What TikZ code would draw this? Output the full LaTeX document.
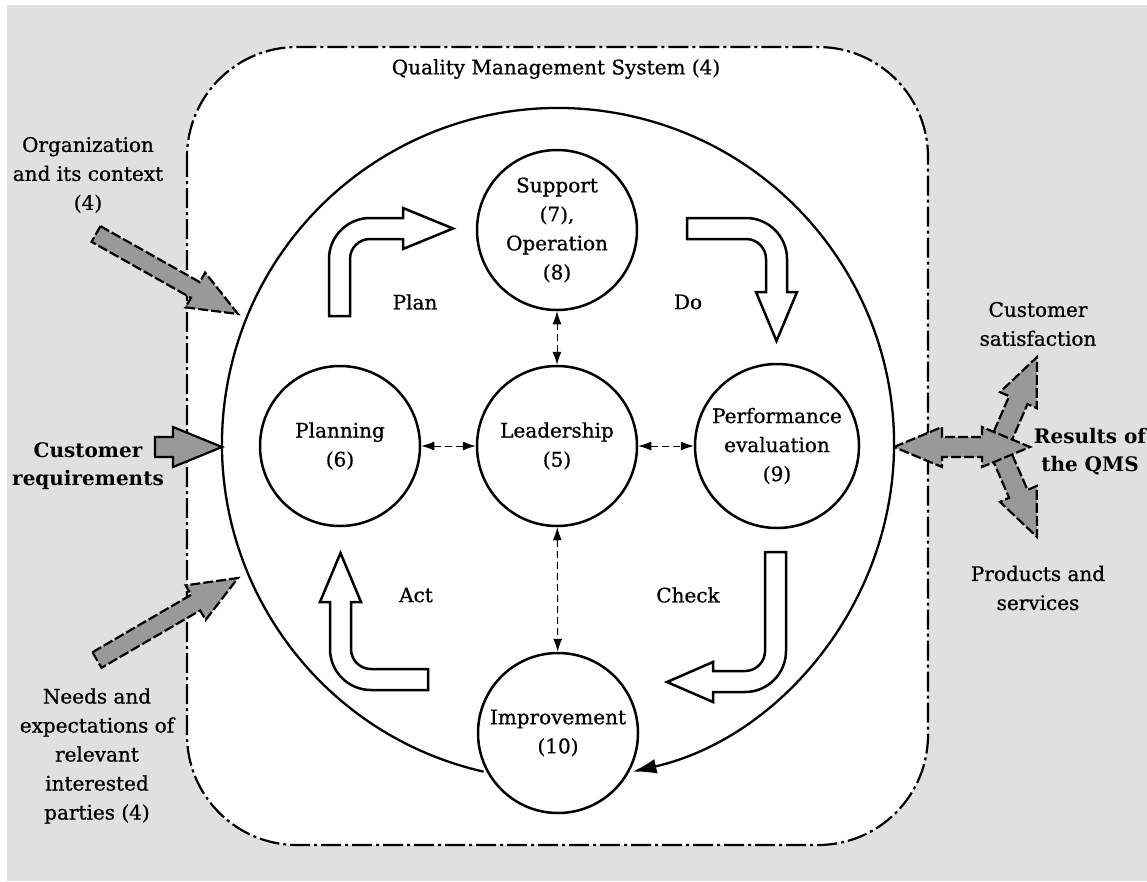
\documentclass[tikz,border=0pt]{standalone}
\usepackage{fontspec}
\setmainfont{DejaVu Serif}[UprightFeatures={FakeBold=0.8}]
\usetikzlibrary{calc,arrows.meta}
\definecolor{bggray}{RGB}{224,224,224}
\definecolor{arrgray}{RGB}{153,153,153}
\newcommand\fatarrow[6][]{%
  \path (#2) coordinate (fa-t) (#3) coordinate (fa-p);
  \path ($(fa-p)!#6!(fa-t)$) coordinate (fa-h);
  \draw[#1] ($(fa-t)!#4!90:(fa-p)$) -- ($(fa-h)!#4!90:(fa-p)$) -- ($(fa-h)!#5!90:(fa-p)$) -- (fa-p)
    -- ($(fa-h)!#5!-90:(fa-p)$) -- ($(fa-h)!#4!-90:(fa-p)$) -- ($(fa-t)!#4!-90:(fa-p)$) -- cycle;
}
\begin{document}
\begin{tikzpicture}[x=1pt,y=-1pt,
  txt/.style={font=\fontsize{20pt}{29pt}\selectfont, align=center, inner sep=0pt},
  btxt/.style={txt, font=\fontsize{20pt}{28pt}\selectfont\bfseries},
  circ/.style={circle, draw, line width=2.5pt, fill=white, minimum size=160pt, inner sep=0pt, align=center, font=\fontsize{20pt}{29pt}\selectfont},
  dashdot/.style={line width=2.2pt, dash pattern=on 20pt off 4pt on 3pt off 4pt},
  hollow/.style={draw, fill=white, line width=2.5pt, line join=miter},
  grayarr/.style={draw, fill=arrgray, line width=2.2pt, dash pattern=on 10pt off 3pt, line join=miter},
  solidarr/.style={draw, fill=arrgray, line width=2.2pt, line join=miter},
  link/.style={line width=1pt, dash pattern=on 7pt off 4pt, {Latex[length=13pt,width=9pt]}-{Latex[length=13pt,width=9pt]}}
]
\useasboundingbox (0,0) rectangle (1147,881);
\fill[white] (0,0) rectangle (1147,881);
\fill[bggray] (7,5) rectangle (1147,881);
% QMS boundary
\draw[dashdot, fill=white, rounded corners=110pt] (187,47) rectangle (928,845);
\node[txt] (qms) at (556,69) {Quality Management System (4)};
% big cycle
\coordinate (cc) at (558,444);
\draw[line width=2.3pt, -{Latex[length=24pt,width=15pt]}] ($(cc)+(102.8:336)$) arc[start angle=102.8, end angle=437.2, radius=336];
% circles
\node[circ] (support) at (557,230) {Support\\(7),\\Operation\\(8)};
\node[circ] (leader) at (557,446) {Leadership\\(5)};
\node[circ] (planning) at (340,446) {Planning\\(6)};
\node[circ, minimum size=164pt] (perf) at (777,446) {Performance\\evaluation\\(9)};
\node[circ] (improve) at (558,733) {Improvement\\(10)};
% links
\draw[link] (leader) -- (planning);
\draw[link] (leader) -- (perf);
\draw[link] (leader) -- (support);
\draw[link] (leader) -- (improve);
% PDCA arrows
\draw[hollow] (329,316) -- (329,259) arc[start angle=180,end angle=270,radius=41] -- (403,218) -- (403,208) -- (453,228.5) -- (403,249) -- (403,239) -- (370,239) arc[start angle=270,end angle=180,radius=20] -- (350,316) -- cycle;
\draw[hollow] (687,218) -- (746,218) arc[start angle=270, end angle=360, radius=41] -- (787,292) -- (797,292) -- (776.5,341) -- (756,292) -- (766,292) -- (766,259) arc[start angle=0, end angle=-90, radius=20] -- (687,239) -- cycle;
\draw[hollow] (340.5,553) -- (361,602) -- (351,602) -- (351,649) arc[start angle=180, end angle=90, radius=20] -- (428,669) -- (428,690) -- (371,690) arc[start angle=90, end angle=180, radius=41] -- (330,602) -- (320,602) -- cycle;
\draw[hollow] (765,552) -- (786,552) -- (786,651) arc[start angle=0, end angle=90, radius=41] -- (713,692) -- (713,702) -- (667,682) -- (713,662) -- (713,671) -- (745,671) arc[start angle=90, end angle=0, radius=20] -- cycle;
\node[txt] (plan) at (415,302) {Plan};
\node[txt] (do) at (688,302) {Do};
\node[txt] (act) at (416,595) {Act};
\node[txt] (check) at (688,595) {Check};
% inputs
\fatarrow[grayarr]{96,234}{238,314}{9pt}{20pt}{49pt}
\fatarrow[grayarr]{97,660}{238,578}{9pt}{20pt}{49pt}
\fatarrow[solidarr]{155,447}{222,447}{10pt}{20pt}{49pt}
\node[txt] (org) at (88,175) {Organization\\and its context\\(4)};
\node[btxt] (custreq) at (88,466) {Customer\\requirements};
\node[txt] (needs) at (97,756) {Needs and\\expectations of\\relevant\\interested\\parties (4)};
% outputs
\fatarrow[grayarr]{998,447}{1037,357}{10pt}{20pt}{47pt}
\fatarrow[grayarr]{998,447}{1037,537}{10pt}{20pt}{47pt}
\draw[grayarr] (894,447) -- (942,427) -- (942,437) -- (982,437) -- (982,427) -- (1030,447) -- (982,467) -- (982,457) -- (942,457) -- (942,467) -- cycle;
\node[txt] (custsat) at (1038,324) {Customer\\satisfaction};
\node[btxt] (results) at (1090,452) {Results of\\the QMS};
\node[txt] (products) at (1038,588) {Products and\\services};
\end{tikzpicture}
\end{document}
